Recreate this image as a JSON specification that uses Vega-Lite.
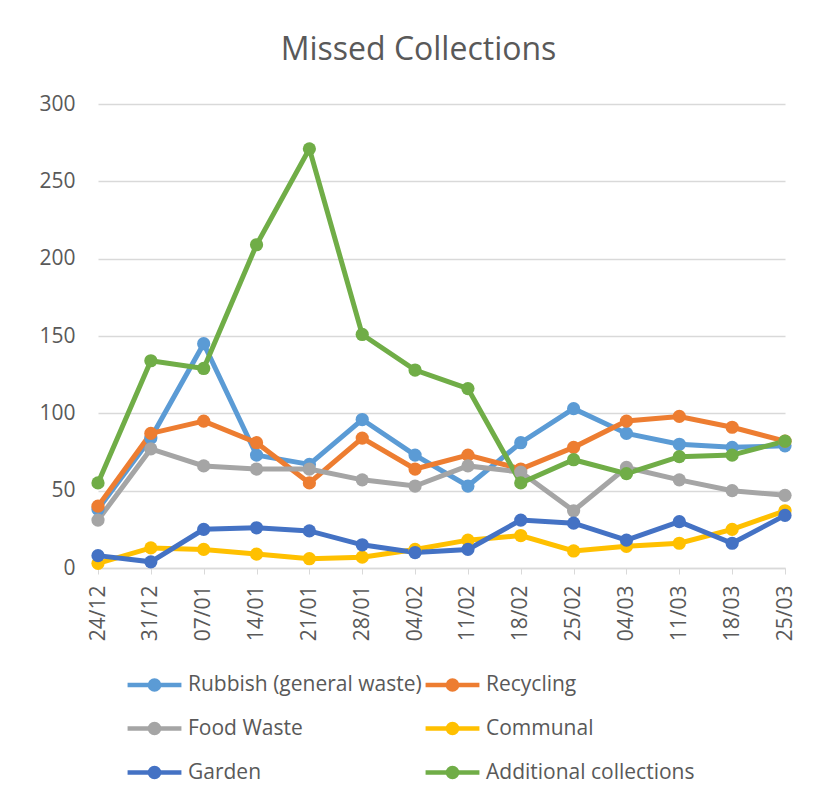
{
  "$schema": "https://vega.github.io/schema/vega-lite/v6.json",
  "autosize": {"type": "none"},
  "width": 687,
  "height": 464,
  "padding": {"left": 98, "top": 104, "right": 34, "bottom": 233},
  "background": "white",
  "config": {
    "font": "Open Sans",
    "view": {"stroke": null},
    "axis": {"labelColor": "#595959", "labelFontSize": 21, "labelFont": "Open Sans", "gridColor": "#d9d9d9", "gridWidth": 1.3, "domainColor": "#d9d9d9", "tickColor": "#d9d9d9", "title": null}
  },
  "title": {"text": "Missed Collections", "fontSize": 32, "font": "Open Sans", "color": "#595959", "fontWeight": "normal", "anchor": "middle", "dx": -23, "offset": 26},
  "data": {"values": [
    {"date": "24/12", "series": "Rubbish (general waste)", "value": 38},
    {"date": "31/12", "series": "Rubbish (general waste)", "value": 84},
    {"date": "07/01", "series": "Rubbish (general waste)", "value": 145},
    {"date": "14/01", "series": "Rubbish (general waste)", "value": 73},
    {"date": "21/01", "series": "Rubbish (general waste)", "value": 67},
    {"date": "28/01", "series": "Rubbish (general waste)", "value": 96},
    {"date": "04/02", "series": "Rubbish (general waste)", "value": 73},
    {"date": "11/02", "series": "Rubbish (general waste)", "value": 53},
    {"date": "18/02", "series": "Rubbish (general waste)", "value": 81},
    {"date": "25/02", "series": "Rubbish (general waste)", "value": 103},
    {"date": "04/03", "series": "Rubbish (general waste)", "value": 87},
    {"date": "11/03", "series": "Rubbish (general waste)", "value": 80},
    {"date": "18/03", "series": "Rubbish (general waste)", "value": 78},
    {"date": "25/03", "series": "Rubbish (general waste)", "value": 79},
    {"date": "24/12", "series": "Recycling", "value": 40},
    {"date": "31/12", "series": "Recycling", "value": 87},
    {"date": "07/01", "series": "Recycling", "value": 95},
    {"date": "14/01", "series": "Recycling", "value": 81},
    {"date": "21/01", "series": "Recycling", "value": 55},
    {"date": "28/01", "series": "Recycling", "value": 84},
    {"date": "04/02", "series": "Recycling", "value": 64},
    {"date": "11/02", "series": "Recycling", "value": 73},
    {"date": "18/02", "series": "Recycling", "value": 64},
    {"date": "25/02", "series": "Recycling", "value": 78},
    {"date": "04/03", "series": "Recycling", "value": 95},
    {"date": "11/03", "series": "Recycling", "value": 98},
    {"date": "18/03", "series": "Recycling", "value": 91},
    {"date": "25/03", "series": "Recycling", "value": 82},
    {"date": "24/12", "series": "Food Waste", "value": 31},
    {"date": "31/12", "series": "Food Waste", "value": 77},
    {"date": "07/01", "series": "Food Waste", "value": 66},
    {"date": "14/01", "series": "Food Waste", "value": 64},
    {"date": "21/01", "series": "Food Waste", "value": 64},
    {"date": "28/01", "series": "Food Waste", "value": 57},
    {"date": "04/02", "series": "Food Waste", "value": 53},
    {"date": "11/02", "series": "Food Waste", "value": 66},
    {"date": "18/02", "series": "Food Waste", "value": 62},
    {"date": "25/02", "series": "Food Waste", "value": 37},
    {"date": "04/03", "series": "Food Waste", "value": 65},
    {"date": "11/03", "series": "Food Waste", "value": 57},
    {"date": "18/03", "series": "Food Waste", "value": 50},
    {"date": "25/03", "series": "Food Waste", "value": 47},
    {"date": "24/12", "series": "Communal", "value": 3},
    {"date": "31/12", "series": "Communal", "value": 13},
    {"date": "07/01", "series": "Communal", "value": 12},
    {"date": "14/01", "series": "Communal", "value": 9},
    {"date": "21/01", "series": "Communal", "value": 6},
    {"date": "28/01", "series": "Communal", "value": 7},
    {"date": "04/02", "series": "Communal", "value": 12},
    {"date": "11/02", "series": "Communal", "value": 18},
    {"date": "18/02", "series": "Communal", "value": 21},
    {"date": "25/02", "series": "Communal", "value": 11},
    {"date": "04/03", "series": "Communal", "value": 14},
    {"date": "11/03", "series": "Communal", "value": 16},
    {"date": "18/03", "series": "Communal", "value": 25},
    {"date": "25/03", "series": "Communal", "value": 37},
    {"date": "24/12", "series": "Garden", "value": 8},
    {"date": "31/12", "series": "Garden", "value": 4},
    {"date": "07/01", "series": "Garden", "value": 25},
    {"date": "14/01", "series": "Garden", "value": 26},
    {"date": "21/01", "series": "Garden", "value": 24},
    {"date": "28/01", "series": "Garden", "value": 15},
    {"date": "04/02", "series": "Garden", "value": 10},
    {"date": "11/02", "series": "Garden", "value": 12},
    {"date": "18/02", "series": "Garden", "value": 31},
    {"date": "25/02", "series": "Garden", "value": 29},
    {"date": "04/03", "series": "Garden", "value": 18},
    {"date": "11/03", "series": "Garden", "value": 30},
    {"date": "18/03", "series": "Garden", "value": 16},
    {"date": "25/03", "series": "Garden", "value": 34},
    {"date": "24/12", "series": "Additional collections", "value": 55},
    {"date": "31/12", "series": "Additional collections", "value": 134},
    {"date": "07/01", "series": "Additional collections", "value": 129},
    {"date": "14/01", "series": "Additional collections", "value": 209},
    {"date": "21/01", "series": "Additional collections", "value": 271},
    {"date": "28/01", "series": "Additional collections", "value": 151},
    {"date": "04/02", "series": "Additional collections", "value": 128},
    {"date": "11/02", "series": "Additional collections", "value": 116},
    {"date": "18/02", "series": "Additional collections", "value": 55},
    {"date": "25/02", "series": "Additional collections", "value": 70},
    {"date": "04/03", "series": "Additional collections", "value": 61},
    {"date": "11/03", "series": "Additional collections", "value": 72},
    {"date": "18/03", "series": "Additional collections", "value": 73},
    {"date": "25/03", "series": "Additional collections", "value": 82}
  ]},
  "mark": {"type": "line", "strokeWidth": 5, "point": {"filled": true, "size": 175, "opacity": 1}},
  "encoding": {
    "x": {"field": "date", "type": "ordinal", "sort": null, "scale": {"type": "point", "padding": 0},
      "axis": {"labelAngle": -90, "labelPadding": 11, "ticks": true, "tickSize": 6, "grid": false, "domain": true, "domainWidth": 1.3}},
    "y": {"field": "value", "type": "quantitative", "scale": {"domain": [0, 300]},
      "axis": {"values": [0, 50, 100, 150, 200, 250, 300], "domain": false, "ticks": false, "labelPadding": 23}},
    "color": {"field": "series", "type": "nominal",
      "scale": {"domain": ["Rubbish (general waste)", "Recycling", "Food Waste", "Communal", "Garden", "Additional collections"],
        "range": ["#5B9BD5", "#ED7D31", "#A5A5A5", "#FFC000", "#4472C4", "#70AD47"]},
      "legend": {"orient": "none", "direction": "horizontal", "legendX": 27, "legendY": 551, "columns": 2, "title": null, "padding": 0,
        "symbolType": "M-1,0H1M0.17,0A0.17,0.17,0,1,1,-0.17,0A0.17,0.17,0,1,1,0.17,0Z",
        "symbolSize": 2900, "symbolStrokeWidth": 4.5, "labelFontSize": 21, "labelColor": "#595959", "labelFont": "Open Sans",
        "labelOffset": 4, "rowPadding": -1, "columnPadding": -6, "labelLimit": 400,
        "encode": {"symbols": {"update": {"fill": {"scale": "color", "field": "value"}, "stroke": {"scale": "color", "field": "value"}, "opacity": {"value": 1}}}}}
    }
  }
}
